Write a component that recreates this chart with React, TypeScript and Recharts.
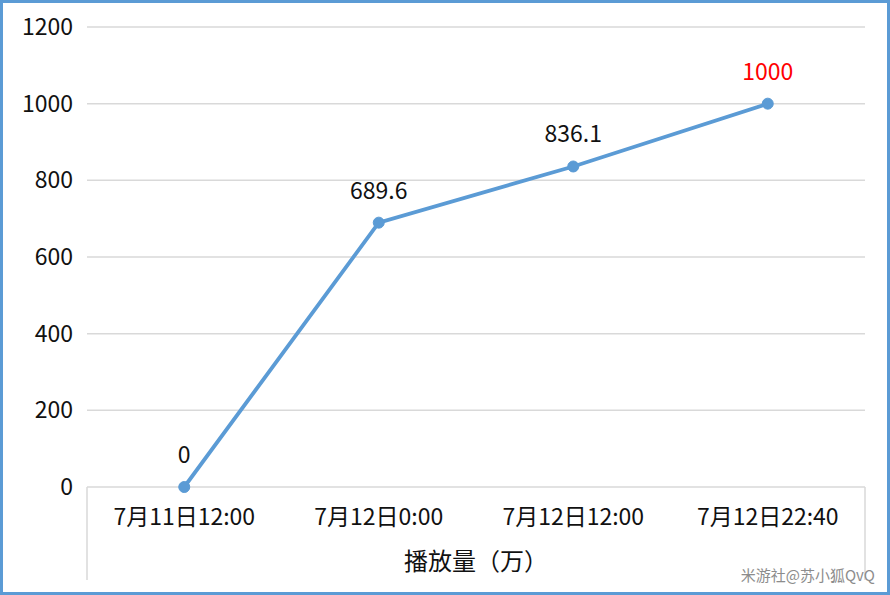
import React from 'react';
import { LineChart, Line, XAxis, YAxis, CartesianGrid, LabelList, Label } from 'recharts';

const categories = ['7月11日12:00', '7月12日0:00', '7月12日12:00', '7月12日22:40'];
const views = [0, 689.6, 836.1, 1000];
const yTicks = [0, 200, 400, 600, 800, 1000, 1200];

const data = categories.map((time, i) => ({ time, views: views[i] }));

const FONT = '"Noto Sans CJK SC", "Noto Sans", sans-serif';
const W = 884;
const H = 589;
const Y_AXIS_W = 84;
const RIGHT = 22;
const PLOT_W = W - Y_AXIS_W - RIGHT;
const BAND = PLOT_W / categories.length;

const XTick = (props: any) => {
  const { x, y, payload, index } = props;
  const last = index === categories.length - 1;
  return (
    <g>
      {index === 0 && (
        <line x1={x - BAND / 2} x2={x - BAND / 2} y1={y - 8} y2={y + 85} stroke="#d9d9d9" strokeWidth={1.5} />
      )}
      {last && (
        <line x1={x + BAND / 2} x2={x + BAND / 2} y1={y - 8} y2={y + 85} stroke="#d9d9d9" strokeWidth={1.5} />
      )}
      <text x={x} y={y + 10} dy="0.85em" textAnchor="middle" fill="#111" fontSize={23} fontFamily={FONT}>
        {payload.value}
      </text>
    </g>
  );
};

const ValueLabel = (props: any) => {
  const { x, y, value, index } = props;
  return (
    <text
      x={x}
      y={y - 24}
      textAnchor="middle"
      fill={index === views.length - 1 ? '#ff0000' : '#111'}
      fontSize={23}
      fontFamily={FONT}
    >
      {value}
    </text>
  );
};

export default function App() {
  return (
    <div
      style={{
        position: 'fixed',
        left: 0,
        top: 0,
        width: 890,
        height: 595,
        boxSizing: 'border-box',
        border: '3px solid #5b9bd5',
        background: '#fff',
      }}
    >
      <LineChart width={W} height={H} data={data} margin={{ top: 24, right: RIGHT, left: 0, bottom: 0 }}>
        <CartesianGrid vertical={false} stroke="#d9d9d9" strokeWidth={1.5} />
        <XAxis
          dataKey="time"
          axisLine={false}
          tickLine={false}
          height={105}
          interval={0}
          padding={{ left: BAND / 2, right: BAND / 2 }}
          tick={<XTick />}
        >
          <Label
            value="播放量（万）"
            position="insideBottom"
            offset={22}
            fill="#111"
            fontSize={24}
            fontFamily={FONT}
          />
        </XAxis>
        <YAxis
          width={Y_AXIS_W}
          domain={[0, 1200]}
          ticks={yTicks}
          axisLine={false}
          tickLine={false}
          tickMargin={8}
          tick={{ fill: '#111', fontSize: 23, fontFamily: FONT }}
        />
        <Line
          type="linear"
          dataKey="views"
          stroke="#5b9bd5"
          strokeWidth={3.8}
          dot={{ r: 5.5, fill: '#5b9bd5', stroke: '#5b9bd5', strokeWidth: 1 }}
          activeDot={false}
          isAnimationActive={false}
        >
          <LabelList dataKey="views" content={<ValueLabel />} />
        </Line>
      </LineChart>
      <div
        style={{
          position: 'absolute',
          right: 12,
          bottom: 10,
          color: '#8c8c8c',
          fontSize: 15,
          fontFamily: FONT,
          lineHeight: 1,
        }}
      >
        米游社@苏小狐QvQ
      </div>
    </div>
  );
}
